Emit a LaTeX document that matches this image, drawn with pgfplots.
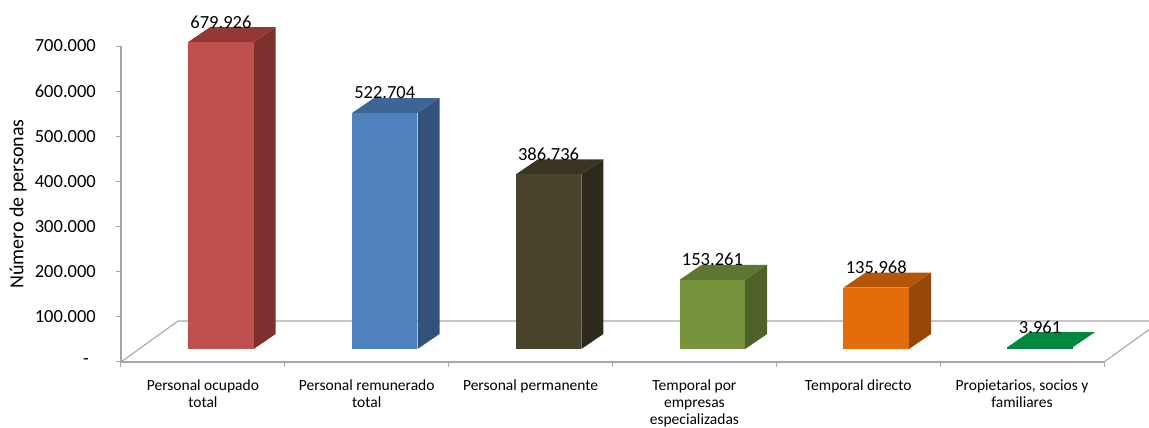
\documentclass[border=0pt]{standalone}
\usepackage{fontspec}
\setmainfont{Carlito}
\usepackage{pgfplots}
\pgfplotsset{compat=1.18}
\definecolor{c1}{HTML}{C0504D}\definecolor{c1s}{HTML}{7E302E}\definecolor{c1t}{HTML}{953735}
\definecolor{c2}{HTML}{4F81BD}\definecolor{c2s}{HTML}{32527A}\definecolor{c2t}{HTML}{3D6596}
\definecolor{c3}{HTML}{4A432B}\definecolor{c3s}{HTML}{2E2A1B}\definecolor{c3t}{HTML}{3A3522}
\definecolor{c4}{HTML}{77933C}\definecolor{c4s}{HTML}{4E6128}\definecolor{c4t}{HTML}{5F7530}
\definecolor{c5}{HTML}{E46C0A}\definecolor{c5s}{HTML}{964707}\definecolor{c5t}{HTML}{B45509}
\definecolor{c6}{HTML}{00803A}\definecolor{c6t}{HTML}{00893F}
\definecolor{gridg}{HTML}{A6A6A6}
\pgfplotsset{
  face/.style={draw=none, xshift=18pt, yshift=13pt},
  front/.style={ybar, bar width=65.5pt, bar shift=18pt, yshift=13pt, draw=none,
    nodes near coords={\pgfmathprintnumber[fixed, precision=0, 1000 sep={.}, assume math mode=true]{\pgfplotspointmeta}},
    every node near coord/.append style={font=\fontsize{18.5}{20}\selectfont, anchor=center, xshift=18pt, yshift=20pt, text=black}},
}
\begin{document}
\begin{tikzpicture}
\begin{axis}[
  at={(0,0)}, anchor=south west,
  scale only axis, width=983pt, height=316pt,
  xmin=-0.5, xmax=5.5, ymin=0, ymax=700000,
  clip=false, scaled y ticks=false,
  axis x line*=bottom, axis y line*=left,
  axis line style={draw=gridg, line width=1.1pt},
  xtick={0,1,2,3,4,5},
  xticklabels={Personal ocupado\\total, Personal remunerado\\total, Personal permanente, Temporal por\\empresas\\especializadas, Temporal directo, {Propietarios, socios y\\familiares}},
  minor xtick={-0.5,0.5,1.5,2.5,3.5,4.5,5.5},
  major x tick style={draw=none},
  minor x tick style={draw=gridg, line width=1pt},
  minor tick length=5pt,
  ytick={0,100000,200000,300000,400000,500000,600000,700000},
  yticklabels={-\kern7pt,100.000,200.000,300.000,400.000,500.000,600.000,700.000},
  y tick style={draw=gridg, line width=1pt},
  major tick length=5pt,
  tick align=outside,
  xticklabel style={anchor=north, inner sep=0pt, yshift=-13pt, align=center, font=\fontsize{15.5}{17}\selectfont},
  yticklabel style={anchor=east, inner sep=0pt, xshift=-20pt, font=\fontsize{18.5}{20}\selectfont},
  ylabel={Número de personas},
  every axis y label/.style={at={(axis description cs:0,0.5)}, xshift=-103pt, rotate=90, anchor=center, font=\fontsize{20}{24}\selectfont},
]
% floor
\addplot[draw=gridg, line width=1.1pt] coordinates {(-0.5,0) (-0.152,90800) (5.848,90800) (5.5,0)};
% bar 1
\addplot[face, fill=c1s] coordinates {(0.2,0) (0.2,679926) (0.3343,713154) (0.3343,33228)} -- cycle;
\addplot[face, fill=c1t] coordinates {(-0.2,679926) (0.2,679926) (0.3343,713154) (-0.0657,713154)} -- cycle;
\addplot[front, fill=c1] coordinates {(0,679926)};
% bar 2
\addplot[face, fill=c2s] coordinates {(1.2,0) (1.2,522704) (1.3343,555932) (1.3343,33228)} -- cycle;
\addplot[face, fill=c2t] coordinates {(0.8,522704) (1.2,522704) (1.3343,555932) (0.9343,555932)} -- cycle;
\addplot[front, fill=c2] coordinates {(1,522704)};
% bar 3
\addplot[face, fill=c3s] coordinates {(2.2,0) (2.2,386736) (2.3343,419964) (2.3343,33228)} -- cycle;
\addplot[face, fill=c3t] coordinates {(1.8,386736) (2.2,386736) (2.3343,419964) (1.9343,419964)} -- cycle;
\addplot[front, fill=c3] coordinates {(2,386736)};
% bar 4
\addplot[face, fill=c4s] coordinates {(3.2,0) (3.2,153261) (3.3343,186489) (3.3343,33228)} -- cycle;
\addplot[face, fill=c4t] coordinates {(2.8,153261) (3.2,153261) (3.3343,186489) (2.9343,186489)} -- cycle;
\addplot[front, fill=c4] coordinates {(3,153261)};
% bar 5
\addplot[face, fill=c5s] coordinates {(4.2,0) (4.2,135968) (4.3343,169196) (4.3343,33228)} -- cycle;
\addplot[face, fill=c5t] coordinates {(3.8,135968) (4.2,135968) (4.3343,169196) (3.9343,169196)} -- cycle;
\addplot[front, fill=c5] coordinates {(4,135968)};
% bar 6
\addplot[face, fill=c6t] coordinates {(4.8,3961) (5.2,3961) (5.3343,37189) (4.9343,37189)} -- cycle;
\addplot[front, fill=c6] coordinates {(5,3961)};
\end{axis}
\pgfresetboundingbox
\path[use as bounding box] (-121pt,-66pt) rectangle (1028pt,362pt);
\end{tikzpicture}
\end{document}
